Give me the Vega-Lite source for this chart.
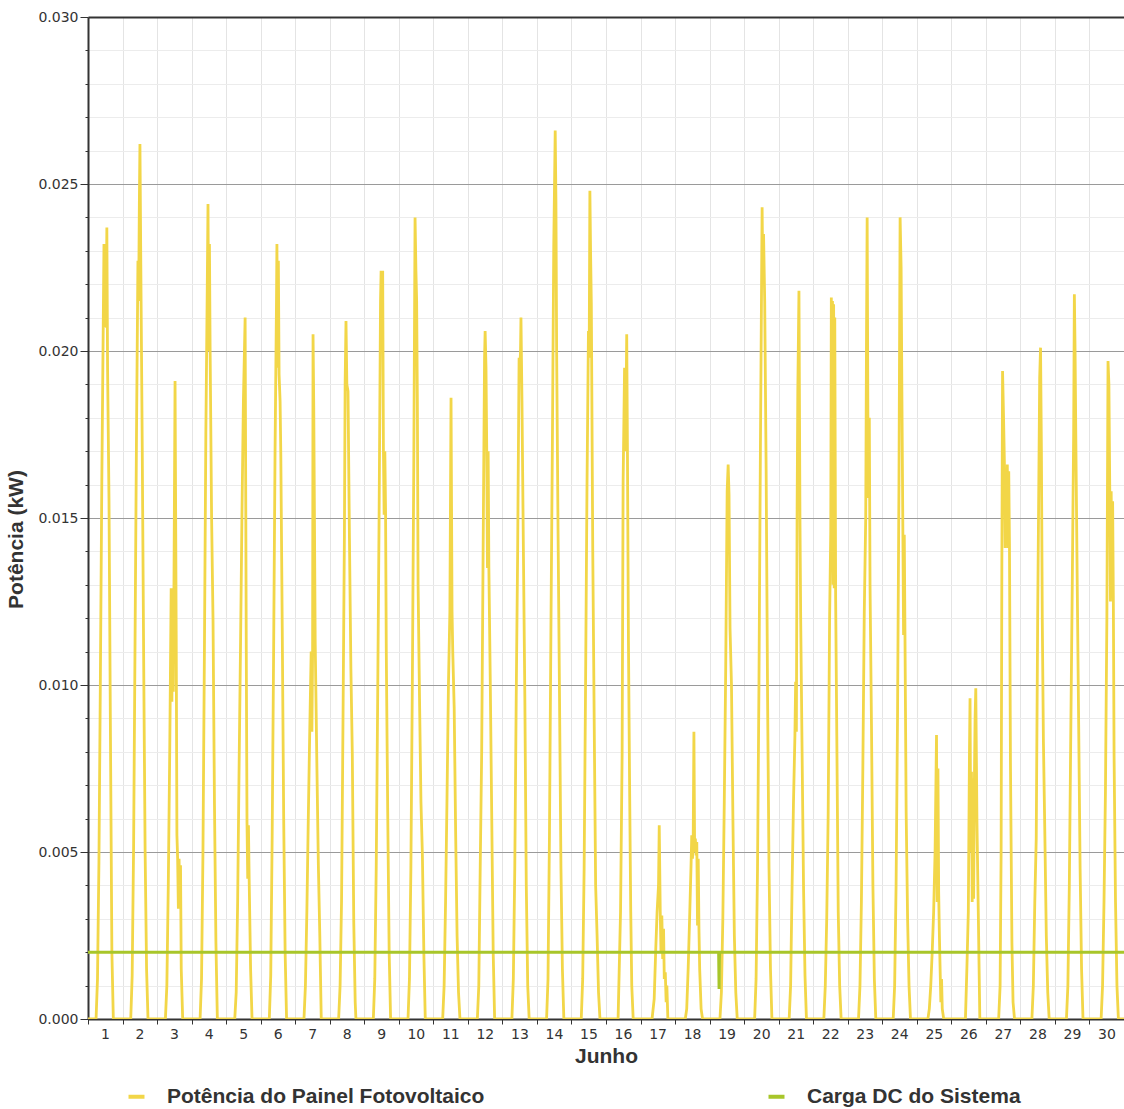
{
"$schema":"https://vega.github.io/schema/vega-lite/v6.json",
"width":1036,"height":1002,
"autosize":{"type":"none"},
"padding":{"left":88,"top":17,"right":0,"bottom":90},
"background":"white",
"config":{"view":{"stroke":null}},
"datasets":{
"pv":[{"t":0,"p":0},
{"t":5.6,"p":0},{"t":6.6,"p":0.0012},{"t":7.6,"p":0.0047},{"t":8.6,"p":0.0102},{"t":9.6,"p":0.0161},{"t":10.6,"p":0.0208},{"t":11.1,"p":0.0232},{"t":11.6,"p":0.0207},{"t":12.1,"p":0.023},{"t":12.6,"p":0.0208},{"t":13.1,"p":0.0237},{"t":13.6,"p":0.0195},{"t":14.6,"p":0.0155},{"t":15.6,"p":0.0085},{"t":16.6,"p":0.002},{"t":17.6,"p":0},
{"t":29.7,"p":0},{"t":30.7,"p":0.0013},{"t":31.7,"p":0.0052},{"t":32.7,"p":0.0113},{"t":33.7,"p":0.0175},{"t":34.7,"p":0.0227},{"t":35.2,"p":0.0215},{"t":35.7,"p":0.0245},{"t":36.1,"p":0.0262},{"t":36.7,"p":0.0226},{"t":37.7,"p":0.0171},{"t":38.7,"p":0.0107},{"t":39.7,"p":0.005},{"t":40.7,"p":0.0015},{"t":41.7,"p":0},
{"t":53.8,"p":0},{"t":54.8,"p":0.001},{"t":55.8,"p":0.004},{"t":56.8,"p":0.008},{"t":57.8,"p":0.0129},{"t":58.3,"p":0.0095},{"t":58.8,"p":0.0126},{"t":59.3,"p":0.0098},{"t":59.8,"p":0.0135},{"t":60.5,"p":0.0191},{"t":61.3,"p":0.0115},{"t":61.8,"p":0.0055},{"t":62.3,"p":0.0048},{"t":62.8,"p":0.0033},{"t":63.3,"p":0.0048},{"t":63.8,"p":0.0033},{"t":64.3,"p":0.0046},{"t":64.8,"p":0.0015},{"t":65.8,"p":0},
{"t":77.9,"p":0},{"t":78.9,"p":0.0012},{"t":79.9,"p":0.005},{"t":80.9,"p":0.011},{"t":81.9,"p":0.0175},{"t":82.9,"p":0.022},{"t":83.4,"p":0.0244},{"t":83.9,"p":0.02},{"t":84.4,"p":0.0232},{"t":84.9,"p":0.0199},{"t":85.9,"p":0.015},{"t":86.9,"p":0.0119},{"t":87.9,"p":0.0064},{"t":88.9,"p":0.0023},{"t":89.9,"p":0},
{"t":102,"p":0},{"t":103,"p":0.0008},{"t":104,"p":0.0035},{"t":105,"p":0.0075},{"t":106,"p":0.0112},{"t":107,"p":0.0151},{"t":108,"p":0.0185},{"t":109.2,"p":0.021},{"t":110,"p":0.011},{"t":110.5,"p":0.0059},{"t":111,"p":0.0042},{"t":111.5,"p":0.0058},{"t":112,"p":0.0042},{"t":113,"p":0.0015},{"t":114,"p":0},
{"t":126,"p":0},{"t":127,"p":0.0013},{"t":128,"p":0.0055},{"t":129,"p":0.011},{"t":130,"p":0.017},{"t":131,"p":0.0215},{"t":131.3,"p":0.0232},{"t":131.8,"p":0.0195},{"t":132.3,"p":0.0227},{"t":132.8,"p":0.0193},{"t":133.5,"p":0.0185},{"t":134,"p":0.0169},{"t":135,"p":0.0117},{"t":136,"p":0.006},{"t":137,"p":0.002},{"t":138,"p":0},
{"t":150.1,"p":0},{"t":151.1,"p":0.001},{"t":152.1,"p":0.0032},{"t":153.1,"p":0.006},{"t":154.1,"p":0.0086},{"t":155.1,"p":0.011},{"t":155.6,"p":0.0086},{"t":156.1,"p":0.011},{"t":156.4,"p":0.0205},{"t":156.9,"p":0.0183},{"t":157.9,"p":0.0113},{"t":159.1,"p":0.0075},{"t":160.1,"p":0.0046},{"t":161.1,"p":0.0025},{"t":162.1,"p":0},
{"t":174.2,"p":0},{"t":175.2,"p":0.001},{"t":176.2,"p":0.0035},{"t":177.2,"p":0.0088},{"t":178.2,"p":0.0145},{"t":178.7,"p":0.019},{"t":179.3,"p":0.0209},{"t":179.9,"p":0.019},{"t":180.7,"p":0.0188},{"t":181.7,"p":0.0144},{"t":182.7,"p":0.0105},{"t":183.7,"p":0.0079},{"t":184.7,"p":0.0029},{"t":185.7,"p":0.0005},{"t":186.2,"p":0},
{"t":198.3,"p":0},{"t":199.3,"p":0.0012},{"t":200.3,"p":0.0045},{"t":201.3,"p":0.0095},{"t":202.3,"p":0.015},{"t":203.3,"p":0.0215},{"t":203.7,"p":0.0224},{"t":204.3,"p":0.0222},{"t":204.8,"p":0.0224},{"t":205.3,"p":0.0171},{"t":205.8,"p":0.0151},{"t":206.3,"p":0.017},{"t":206.8,"p":0.0152},{"t":207.3,"p":0.011},{"t":208.3,"p":0.0062},{"t":209.3,"p":0.002},{"t":210.3,"p":0},
{"t":222.4,"p":0},{"t":223.4,"p":0.0012},{"t":224.4,"p":0.0045},{"t":225.4,"p":0.01},{"t":226.4,"p":0.0165},{"t":227.3,"p":0.024},{"t":227.9,"p":0.0224},{"t":228.4,"p":0.0215},{"t":228.9,"p":0.0185},{"t":229.4,"p":0.013},{"t":230.4,"p":0.0096},{"t":231.4,"p":0.0065},{"t":232.4,"p":0.0049},{"t":233.4,"p":0.002},{"t":234.4,"p":0},
{"t":246.5,"p":0},{"t":247.5,"p":0.001},{"t":248.5,"p":0.0035},{"t":249.5,"p":0.0066},{"t":250.5,"p":0.01},{"t":251.5,"p":0.0122},{"t":252.3,"p":0.0186},{"t":253,"p":0.0122},{"t":253.5,"p":0.011},{"t":254.5,"p":0.0093},{"t":255.5,"p":0.0056},{"t":256.5,"p":0.0025},{"t":257.5,"p":0.0008},{"t":258.5,"p":0},
{"t":270.6,"p":0},{"t":271.6,"p":0.001},{"t":272.6,"p":0.0046},{"t":273.6,"p":0.008},{"t":274.6,"p":0.014},{"t":275.6,"p":0.0198},{"t":276,"p":0.0206},{"t":276.6,"p":0.0195},{"t":277.1,"p":0.0171},{"t":277.6,"p":0.0135},{"t":278.1,"p":0.017},{"t":278.6,"p":0.0135},{"t":279.6,"p":0.01},{"t":280.6,"p":0.006},{"t":281.6,"p":0.002},{"t":282.6,"p":0},
{"t":294.6,"p":0},{"t":295.6,"p":0.0012},{"t":296.6,"p":0.0045},{"t":297.6,"p":0.0096},{"t":298.6,"p":0.014},{"t":299.6,"p":0.0198},{"t":300.1,"p":0.0195},{"t":300.6,"p":0.02},{"t":300.9,"p":0.021},{"t":301.6,"p":0.0185},{"t":302.6,"p":0.014},{"t":303.6,"p":0.0096},{"t":304.6,"p":0.004},{"t":305.6,"p":0.001},{"t":306.6,"p":0},
{"t":318.7,"p":0},{"t":319.7,"p":0.0012},{"t":320.7,"p":0.0055},{"t":321.7,"p":0.0115},{"t":322.7,"p":0.017},{"t":323.7,"p":0.0232},{"t":324.7,"p":0.0266},{"t":325.2,"p":0.0245},{"t":325.7,"p":0.02},{"t":326.7,"p":0.0145},{"t":327.7,"p":0.0096},{"t":328.7,"p":0.0045},{"t":329.7,"p":0.0015},{"t":330.7,"p":0},
{"t":342.8,"p":0},{"t":343.8,"p":0.0012},{"t":344.8,"p":0.0045},{"t":345.8,"p":0.01},{"t":346.8,"p":0.016},{"t":347.8,"p":0.0206},{"t":348.3,"p":0.0198},{"t":348.8,"p":0.0248},{"t":349.3,"p":0.0229},{"t":349.8,"p":0.0214},{"t":350.8,"p":0.014},{"t":351.8,"p":0.0089},{"t":352.8,"p":0.004},{"t":353.8,"p":0.0025},{"t":354.8,"p":0.0008},{"t":355.8,"p":0},
{"t":368.4,"p":0},{"t":370.1,"p":0.0032},{"t":371.2,"p":0.0079},{"t":371.9,"p":0.0161},{"t":372.9,"p":0.0195},{"t":373.6,"p":0.017},{"t":374.4,"p":0.0205},{"t":374.9,"p":0.017},{"t":375.6,"p":0.0113},{"t":376.4,"p":0.007},{"t":377.2,"p":0.0032},{"t":377.9,"p":0.001},{"t":378.9,"p":0},
{"t":392,"p":0},{"t":393.5,"p":0.0006},{"t":394.5,"p":0.002},{"t":395.5,"p":0.0032},{"t":396.5,"p":0.004},{"t":397,"p":0.0058},{"t":397.7,"p":0.0032},{"t":398.2,"p":0.002},{"t":398.8,"p":0.0031},{"t":399.4,"p":0.0018},{"t":400,"p":0.0027},{"t":400.5,"p":0.0012},{"t":401.2,"p":0.0014},{"t":401.8,"p":0.0005},{"t":402.3,"p":0.001},{"t":403,"p":0},
{"t":415.1,"p":0},{"t":416.1,"p":0.0003},{"t":417.1,"p":0.0015},{"t":418.1,"p":0.003},{"t":419.1,"p":0.0046},{"t":419.6,"p":0.0055},{"t":420.1,"p":0.0048},{"t":420.6,"p":0.0054},{"t":421.1,"p":0.0086},{"t":421.6,"p":0.005},{"t":422.1,"p":0.0054},{"t":422.6,"p":0.0049},{"t":423.1,"p":0.0053},{"t":423.6,"p":0.0028},{"t":424.1,"p":0.0048},{"t":424.6,"p":0.0027},{"t":425.1,"p":0.0015},{"t":426.1,"p":0.0003},{"t":427.1,"p":0},
{"t":439.2,"p":0},{"t":440.2,"p":0.0008},{"t":441.2,"p":0.003},{"t":442.2,"p":0.0065},{"t":443.2,"p":0.0105},{"t":444.2,"p":0.0158},{"t":444.9,"p":0.0166},{"t":445.5,"p":0.0157},{"t":446.2,"p":0.0117},{"t":447.2,"p":0.01},{"t":448.2,"p":0.006},{"t":449.2,"p":0.0025},{"t":450.2,"p":0.0008},{"t":451.2,"p":0},
{"t":463.3,"p":0},{"t":464.3,"p":0.0012},{"t":465.3,"p":0.0045},{"t":466.3,"p":0.01},{"t":467.3,"p":0.017},{"t":468.5,"p":0.0243},{"t":469,"p":0.022},{"t":469.5,"p":0.0235},{"t":470.3,"p":0.0215},{"t":471.3,"p":0.0164},{"t":472.3,"p":0.0096},{"t":473.3,"p":0.0045},{"t":474.3,"p":0.0015},{"t":475.3,"p":0},
{"t":487.3,"p":0},{"t":488.3,"p":0.001},{"t":489.3,"p":0.0039},{"t":490.3,"p":0.0065},{"t":491.3,"p":0.0085},{"t":491.8,"p":0.0101},{"t":492.3,"p":0.0086},{"t":492.8,"p":0.0151},{"t":493.3,"p":0.0188},{"t":494.1,"p":0.0218},{"t":494.8,"p":0.015},{"t":495.3,"p":0.012},{"t":496.3,"p":0.0079},{"t":497.3,"p":0.0039},{"t":498.3,"p":0.0013},{"t":499.3,"p":0},
{"t":511.4,"p":0},{"t":512.4,"p":0.001},{"t":513.4,"p":0.003},{"t":514.4,"p":0.0061},{"t":515.4,"p":0.012},{"t":516.2,"p":0.0146},{"t":516.6,"p":0.0216},{"t":517,"p":0.0135},{"t":517.4,"p":0.0215},{"t":517.8,"p":0.013},{"t":518.2,"p":0.0214},{"t":518.6,"p":0.0129},{"t":519,"p":0.021},{"t":519.6,"p":0.0126},{"t":520.4,"p":0.0085},{"t":521.4,"p":0.0032},{"t":522.4,"p":0.001},{"t":523.4,"p":0},
{"t":535.5,"p":0},{"t":536.5,"p":0.001},{"t":537.5,"p":0.0035},{"t":538.5,"p":0.0075},{"t":539.5,"p":0.0122},{"t":540.5,"p":0.015},{"t":541,"p":0.02},{"t":541.5,"p":0.024},{"t":542,"p":0.0181},{"t":542.5,"p":0.0156},{"t":543,"p":0.018},{"t":543.5,"p":0.013},{"t":544.5,"p":0.0088},{"t":545.5,"p":0.004},{"t":546.5,"p":0.0012},{"t":547.5,"p":0},
{"t":559.6,"p":0},{"t":560.6,"p":0.001},{"t":561.6,"p":0.004},{"t":562.6,"p":0.009},{"t":563.6,"p":0.016},{"t":564.4,"p":0.024},{"t":565.1,"p":0.0225},{"t":565.6,"p":0.019},{"t":566.3,"p":0.0147},{"t":566.8,"p":0.0115},{"t":567.3,"p":0.0145},{"t":567.8,"p":0.0114},{"t":568.6,"p":0.0062},{"t":569.6,"p":0.003},{"t":570.6,"p":0.001},{"t":571.6,"p":0},
{"t":583.7,"p":0},{"t":584.7,"p":0.0003},{"t":585.7,"p":0.001},{"t":586.7,"p":0.002},{"t":587.7,"p":0.0032},{"t":588.7,"p":0.005},{"t":589.7,"p":0.0085},{"t":590.2,"p":0.0035},{"t":590.7,"p":0.0075},{"t":591.2,"p":0.0038},{"t":591.7,"p":0.0025},{"t":592.7,"p":0.0005},{"t":593.2,"p":0.0012},{"t":593.7,"p":0.0003},{"t":594.7,"p":0},
{"t":609.8,"p":0},{"t":610.8,"p":0.0015},{"t":611.8,"p":0.0032},{"t":612.6,"p":0.008},{"t":613,"p":0.0096},{"t":613.5,"p":0.005},{"t":614,"p":0.0074},{"t":614.5,"p":0.0035},{"t":615,"p":0.0072},{"t":615.5,"p":0.0036},{"t":616,"p":0.007},{"t":616.5,"p":0.009},{"t":617,"p":0.0099},{"t":617.8,"p":0.0059},{"t":618.8,"p":0.003},{"t":619.8,"p":0},
{"t":632.9,"p":0},{"t":633.9,"p":0.001},{"t":634.6,"p":0.005},{"t":635.1,"p":0.0134},{"t":635.6,"p":0.0194},{"t":636.3,"p":0.018},{"t":636.9,"p":0.0166},{"t":637.4,"p":0.0141},{"t":637.9,"p":0.0165},{"t":638.4,"p":0.0142},{"t":638.9,"p":0.0166},{"t":639.4,"p":0.0141},{"t":639.9,"p":0.0164},{"t":640.4,"p":0.0142},{"t":641.1,"p":0.0076},{"t":642.1,"p":0.0023},{"t":642.9,"p":0.0005},{"t":643.9,"p":0},
{"t":656,"p":0},{"t":657,"p":0.001},{"t":658,"p":0.0035},{"t":659,"p":0.0054},{"t":660,"p":0.012},{"t":660.8,"p":0.0161},{"t":661.4,"p":0.0192},{"t":662,"p":0.0201},{"t":662.6,"p":0.017},{"t":663.2,"p":0.012},{"t":664,"p":0.0083},{"t":665,"p":0.0055},{"t":666,"p":0.0025},{"t":667,"p":0.0008},{"t":668,"p":0},
{"t":680,"p":0},{"t":681,"p":0.001},{"t":682,"p":0.004},{"t":683,"p":0.0085},{"t":684,"p":0.0128},{"t":685,"p":0.0175},{"t":685.5,"p":0.0217},{"t":686,"p":0.02},{"t":686.5,"p":0.0175},{"t":687.5,"p":0.013},{"t":688.5,"p":0.0088},{"t":689.5,"p":0.0045},{"t":690.5,"p":0.0015},{"t":691.5,"p":0},
{"t":704.1,"p":0},{"t":705.1,"p":0.001},{"t":706.1,"p":0.0035},{"t":707.1,"p":0.0068},{"t":708.1,"p":0.012},{"t":708.9,"p":0.0197},{"t":709.5,"p":0.019},{"t":710.1,"p":0.0159},{"t":710.6,"p":0.0125},{"t":711.1,"p":0.0158},{"t":711.6,"p":0.0126},{"t":712.1,"p":0.0155},{"t":712.6,"p":0.0125},{"t":713.1,"p":0.0079},{"t":714.1,"p":0.0035},{"t":715.1,"p":0.001},{"t":716.1,"p":0},
{"t":720,"p":0}],
"carga":[{"t":0,"p":0.002},{"t":438.3,"p":0.002},{"t":438.6,"p":0.0009},{"t":438.9,"p":0.002},{"t":720,"p":0.002}]
},
"layer":[
{"data":{"name":"pv"},
"mark":{"type":"line","strokeWidth":2.8,"clip":true},
"encoding":{
"x":{"field":"t","type":"quantitative","scale":{"domain":[0,720],"nice":false,"zero":false},
"axis":{"values":[0,24,48,72,96,120,144,168,192,216,240,264,288,312,336,360,384,408,432,456,480,504,528,552,576,600,624,648,672,696,720],
"tickCount":200,
"labelExpr":"datum.value < 720 ? datum.value/24 + 1 : ''","labelOffset":17,"labelFlush":false,"labelOverlap":false,
"labelFont":"DejaVu Sans","labelFontSize":14,"labelColor":"#333333","labelPadding":3,
"tickSize":5,"tickColor":"#333333","tickWidth":1,"domainColor":"#333333","domainWidth":2,
"grid":true,"gridColor":"#e4e4e4","gridWidth":1,
"title":"Junho","titleFont":"Liberation Sans","titleFontSize":21,"titleFontWeight":"bold","titleColor":"#333333","titleY":26}},
"y":{"field":"p","type":"quantitative","scale":{"domain":[0,0.03],"nice":false},
"axis":{"values":[0,0.001,0.002,0.003,0.004,0.005,0.006,0.007,0.008,0.009,0.01,0.011,0.012,0.013,0.014,0.015,0.016,0.017,0.018,0.019,0.02,0.021,0.022,0.023,0.024,0.025,0.026,0.027,0.028,0.029,0.03],
"tickCount":200,
"labelExpr":"round(datum.value*1000) % 5 == 0 ? format(datum.value, '.3f') : ''","labelFlush":false,"labelOverlap":false,
"labelFont":"DejaVu Sans","labelFontSize":14,"labelColor":"#333333","labelPadding":2,
"tickSize":{"condition":{"test":"round(datum.value*1000) % 5 == 0","value":8},"value":3},
"tickColor":"#333333","domainColor":"#333333","domainWidth":2,
"grid":true,
"gridColor":{"condition":[{"test":"round(datum.value*1000) == 30","value":"#333333"},{"test":"round(datum.value*1000) % 5 == 0","value":"#9a9a9a"}],"value":"#ececec"},
"gridWidth":{"condition":{"test":"round(datum.value*1000) == 30","value":2},"value":1},
"title":"Potência (kW)","titleFont":"Liberation Sans","titleFontSize":21,"titleFontWeight":"bold","titleColor":"#333333","titleX":-62,"titleY":522}},
"color":{"datum":"Potência do Painel Fotovoltaico","type":"nominal",
"scale":{"domain":["Potência do Painel Fotovoltaico","Carga DC do Sistema"],"range":["#f2d648","#a8c62a"]},
"legend":{"orient":"none","legendX":38,"legendY":1069,"direction":"horizontal","columns":2,"columnPadding":275,
"symbolType":"stroke","symbolSize":256,"symbolStrokeWidth":4,"labelFont":"Liberation Sans","labelFontSize":21,"labelFontWeight":"bold","labelColor":"#333333","labelOffset":20,"labelLimit":0,"title":null,"padding":0}}
}},
{"data":{"name":"carga"},
"mark":{"type":"line","strokeWidth":3},
"encoding":{
"x":{"field":"t","type":"quantitative"},
"y":{"field":"p","type":"quantitative"},
"color":{"datum":"Carga DC do Sistema","type":"nominal"}
}}
]
}
